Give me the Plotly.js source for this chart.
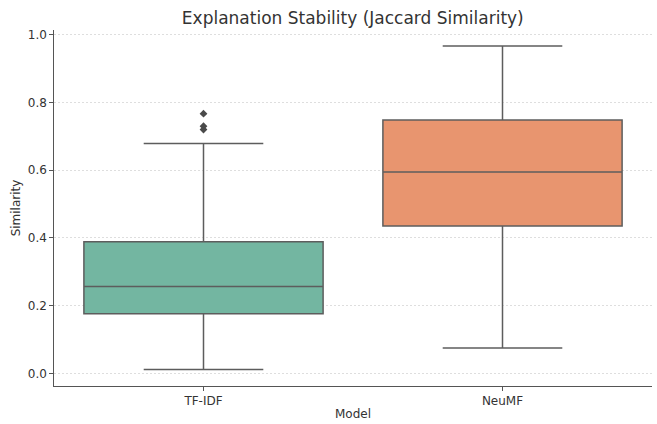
<!DOCTYPE html>
<html>
<head>
<meta charset="utf-8">
<script src="https://cdn.plot.ly/plotly-3.0.1.min.js"></script>
<style>html,body{margin:0;padding:0;background:#fff;}#chart{width:657px;height:424px;}</style>
</head>
<body>
<div id="chart"></div>
<script>
const models = ['TF-IDF', 'NeuMF'];
const lowerWhisker = [0.012, 0.075];
const q1 = [0.176, 0.435];
const median = [0.257, 0.595];
const q3 = [0.389, 0.748];
const upperWhisker = [0.679, 0.967];
const outlierModel = ['TF-IDF', 'TF-IDF', 'TF-IDF'];
const outlierValues = [0.767, 0.730, 0.720];
const fillColors = ['#73b6a1', '#e8956f'];
const yTicks = [0.0, 0.2, 0.4, 0.6, 0.8, 1.0];

const lineColor = '#5d5d5d';
const traces = models.map((m, i) => ({
  type: 'box',
  x: [m],
  q1: [q1[i]],
  median: [median[i]],
  q3: [q3[i]],
  lowerfence: [lowerWhisker[i]],
  upperfence: [upperWhisker[i]],
  boxpoints: false,
  width: 0.8,
  whiskerwidth: 0.5,
  fillcolor: fillColors[i],
  line: {color: lineColor, width: 1.5},
  showlegend: false,
  hoverinfo: 'skip'
}));
traces.push({
  type: 'scatter',
  mode: 'markers',
  x: outlierModel,
  y: outlierValues,
  marker: {symbol: 'diamond', size: 6, color: '#4a4a4a'},
  showlegend: false,
  hoverinfo: 'skip'
});

const layout = {
  width: 657, height: 424,
  margin: {l: 54, r: 5, t: 30, b: 38},
  paper_bgcolor: '#fff', plot_bgcolor: '#fff',
  font: {family: 'DejaVu Sans', size: 12, color: '#333'},
  title: {text: 'Explanation Stability (Jaccard Similarity)', x: 0.537, xanchor: 'center', y: 0.957, yanchor: 'middle', font: {size: 17, color: '#333'}},
  boxmode: 'overlay',
  xaxis: {
    type: 'category', categoryorder: 'array', categoryarray: models,
    range: [-0.5, 1.5],
    showline: true, linecolor: '#555', linewidth: 1.2,
    ticks: 'outside', ticklen: 3.5, tickcolor: '#555', tickwidth: 1,
    showgrid: false, zeroline: false,
    tickfont: {size: 12, color: '#333'},
    title: {text: 'Model', font: {size: 12, color: '#333'}, standoff: 2}
  },
  yaxis: {
    range: [-0.037, 1.014],
    tickvals: yTicks, ticktext: yTicks.map(v => v.toFixed(1)),
    showline: true, linecolor: '#555', linewidth: 1.2,
    ticks: 'outside', ticklen: 3.5, tickcolor: '#555', tickwidth: 1,
    showgrid: true, gridcolor: '#d6d6d6', griddash: '2px,2px', gridwidth: 0.8,
    zeroline: false,
    tickfont: {size: 12, color: '#333'},
    title: {text: 'Similarity', font: {size: 12, color: '#333'}, standoff: 4}
  }
};

Plotly.newPlot('chart', traces, layout, {displayModeBar: false, staticPlot: true});
</script>
</body>
</html>
